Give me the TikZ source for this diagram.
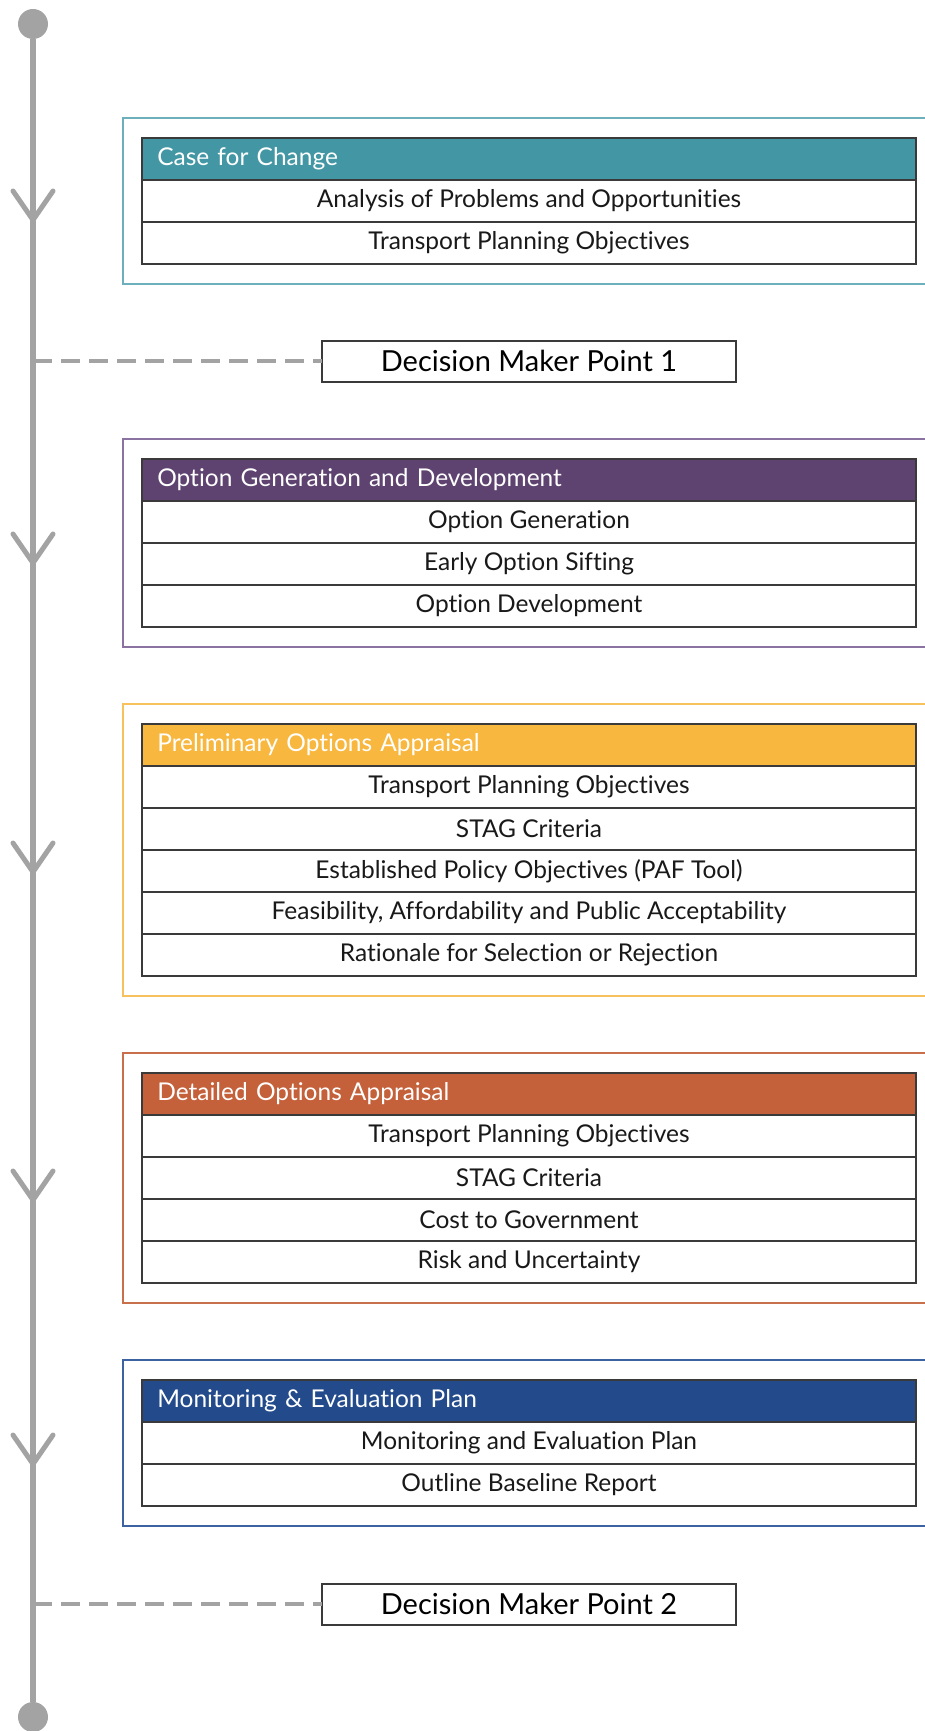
\documentclass[tikz,border=0pt]{standalone}
\usepackage{fontspec}
\setmainfont{Lato}[Ligatures=NoCommon]
\usetikzlibrary{positioning}

\definecolor{caseteal}{HTML}{4397A4}
\definecolor{casefr}{HTML}{6DB0BB}
\definecolor{optpurple}{HTML}{5E4270}
\definecolor{optfr}{HTML}{8A73A0}
\definecolor{prelorange}{HTML}{F8B73E}
\definecolor{prelfr}{HTML}{F7C25E}
\definecolor{detrust}{HTML}{C4603A}
\definecolor{detfr}{HTML}{C8704C}
\definecolor{monnavy}{HTML}{234B8B}
\definecolor{monfr}{HTML}{3D62A2}
\definecolor{linegray}{HTML}{A3A3A3}
\definecolor{cellline}{HTML}{3A3A3A}

\tikzset{
  cell/.style={draw=cellline, line width=2pt, outer sep=0pt, minimum width=773.5pt,
    minimum height=42pt, inner sep=0pt, font=\fontsize{24.5}{28}\selectfont},
  row/.style={cell, fill=white, text=black!90},
  head/.style={cell, text=white, text width=743.5pt, inner xsep=15pt, align=left},
  frame/.style={line width=2pt},
  dmpbox/.style={draw=cellline, line width=2pt, fill=white, minimum width=414.5pt,
    minimum height=41pt, outer sep=0pt, font=\fontsize{29}{33}\selectfont},
  dot/.style={circle, fill=linegray, minimum size=30pt, inner sep=0pt, outer sep=0pt},
  timeline/.style={linegray, line width=6pt},
  chevron/.style={linegray, line width=5pt, line cap=round, line join=round},
  dmpline/.style={linegray, line width=3.3pt, dash pattern=on 19pt off 9pt}
}

\begin{document}
\begin{tikzpicture}[x=1pt, y=-1pt]
  \useasboundingbox (0,0) rectangle (925,1731);

  \node[dot] (start) at (33,24) {};
  \node[dot] (end)   at (33,1717) {};
  \draw[timeline] (start) -- (end);
  \foreach \y in {191,534,843,1171,1435}
    \draw[chevron] (13,\y) -- (33,\y+29) -- (53,\y);

  % case for change
  \draw[frame, casefr] (930,118) -| (122.5,284) -- (930,284);
  \node[head, fill=caseteal] (case) at (529,159) {Case for Change};
  \node[row, below=0pt of case]  (case1) {Analysis of Problems and Opportunities};
  \node[row, below=0pt of case1] (case2) {Transport Planning Objectives};

  \node[dmpbox] (dmp1) at (529,361) {Decision Maker Point 1};
  \draw[dmpline] (start |- dmp1) -- (dmp1);

  % option generation
  \draw[frame, optfr] (930,439) -| (122.5,647) -- (930,647);
  \node[head, fill=optpurple] (opt) at (529,480) {Option Generation and Development};
  \node[row, below=0pt of opt]  (opt1) {Option Generation};
  \node[row, below=0pt of opt1] (opt2) {Early Option Sifting};
  \node[row, below=0pt of opt2] (opt3) {Option Development};

  % preliminary appraisal
  \draw[frame, prelfr] (930,704) -| (122.5,996) -- (930,996);
  \node[head, fill=prelorange] (prel) at (529,745) {Preliminary Options Appraisal};
  \node[row, below=0pt of prel]  (prel1) {Transport Planning Objectives};
  \node[row, below=0pt of prel1] (prel2) {STAG Criteria};
  \node[row, below=0pt of prel2] (prel3) {Established Policy Objectives (PAF Tool)};
  \node[row, below=0pt of prel3] (prel4) {Feasibility, Affordability and Public Acceptability};
  \node[row, below=0pt of prel4] (prel5) {Rationale for Selection or Rejection};

  % detailed appraisal
  \draw[frame, detfr] (930,1053) -| (122.5,1303) -- (930,1303);
  \node[head, fill=detrust] (det) at (529,1094) {Detailed Options Appraisal};
  \node[row, below=0pt of det]  (det1) {Transport Planning Objectives};
  \node[row, below=0pt of det1] (det2) {STAG Criteria};
  \node[row, below=0pt of det2] (det3) {Cost to Government};
  \node[row, below=0pt of det3] (det4) {Risk and Uncertainty};

  % monitoring
  \draw[frame, monfr] (930,1360) -| (122.5,1526) -- (930,1526);
  \node[head, fill=monnavy] (mon) at (529,1401) {Monitoring \& Evaluation Plan};
  \node[row, below=0pt of mon]  (mon1) {Monitoring and Evaluation Plan};
  \node[row, below=0pt of mon1] (mon2) {Outline Baseline Report};

  \node[dmpbox] (dmp2) at (529,1604) {Decision Maker Point 2};
  \draw[dmpline] (start |- dmp2) -- (dmp2);
\end{tikzpicture}
\end{document}
